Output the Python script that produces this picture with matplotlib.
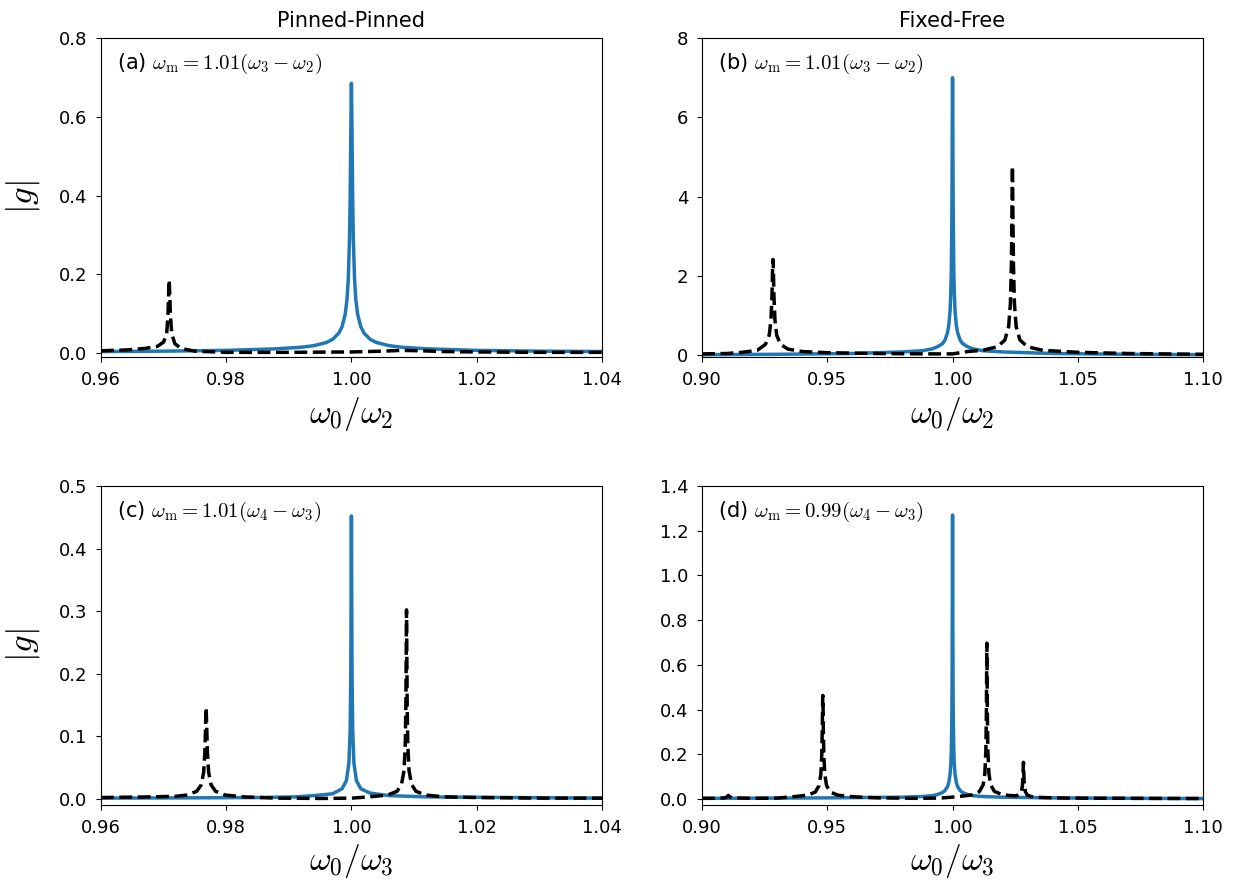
import matplotlib
matplotlib.use('Agg')
import matplotlib.pyplot as plt

plt.rcParams['mathtext.fontset'] = 'cm'

# (a) Pinned-Pinned, w_m = 1.01(w3 - w2)
blue_a_x = [0.960, 0.970, 0.980, 0.988, 0.992, 0.994, 0.996, 0.997, 0.998, 0.9985, 0.999, 0.9993,
            0.9995, 0.9997, 0.9998, 0.9999, 1.000, 1.0001, 1.0002, 1.0003, 1.0005, 1.0007,
            1.001, 1.0015, 1.002, 1.003, 1.004, 1.006, 1.008, 1.012, 1.020, 1.030, 1.040]
blue_a_y = [0.004, 0.005, 0.007, 0.011, 0.015, 0.019, 0.027, 0.035, 0.051, 0.067, 0.098, 0.137,
            0.188, 0.293, 0.393, 0.557, 0.685, 0.557, 0.393, 0.293, 0.188, 0.137,
            0.098, 0.067, 0.051, 0.035, 0.027, 0.019, 0.015, 0.011, 0.007, 0.005, 0.004]
black_a_x = [0.960, 0.964, 0.967, 0.969, 0.970, 0.9705, 0.9707, 0.9708, 0.9709, 0.9710, 0.9711, 0.9713,
             0.9718, 0.9728, 0.975, 0.980, 0.990, 1.000, 1.005, 1.008, 1.011, 1.015, 1.020, 1.030, 1.040]
black_a_y = [0.006, 0.008, 0.012, 0.017, 0.028, 0.050, 0.095, 0.143, 0.186, 0.143, 0.095, 0.050,
             0.024, 0.012, 0.005, 0.002, 0.002, 0.003, 0.005, 0.007, 0.006, 0.004, 0.003, 0.002, 0.002]

# (b) Fixed-Free, w_m = 1.01(w3 - w2)
blue_b_x = [0.900, 0.930, 0.960, 0.980, 0.988, 0.992, 0.994, 0.996, 0.997, 0.998, 0.9985, 0.999,
            0.9993, 0.9995, 0.9997, 0.9998, 0.9999, 1.000, 1.0001, 1.0002, 1.0003, 1.0005,
            1.0007, 1.001, 1.0015, 1.002, 1.003, 1.004, 1.006, 1.008, 1.012, 1.020, 1.040, 1.070, 1.100]
blue_b_y = [0.02, 0.03, 0.05, 0.09, 0.12, 0.17, 0.22, 0.30, 0.39, 0.58, 0.76, 1.12,
            1.57, 2.14, 3.30, 4.37, 5.94, 7.00, 5.94, 4.37, 3.30, 2.14,
            1.57, 1.12, 0.76, 0.58, 0.39, 0.30, 0.22, 0.17, 0.12, 0.09, 0.05, 0.03, 0.02]
black_b_x = [0.900, 0.910, 0.916, 0.922, 0.9253, 0.9268, 0.9275, 0.9279, 0.9281, 0.9282, 0.9283,
             0.9284, 0.9285, 0.9287, 0.9291, 0.9298, 0.9313, 0.9343, 0.940, 0.950, 0.970, 0.990,
             1.000, 1.006, 1.012, 1.0179, 1.0209, 1.0224, 1.0231, 1.0235, 1.0237, 1.0238, 1.0239,
             1.0240, 1.0241, 1.0243, 1.0247, 1.0254, 1.0269, 1.0299, 1.036, 1.050, 1.070, 1.100]
black_b_y = [0.04, 0.05, 0.08, 0.13, 0.28, 0.51, 0.89, 1.49, 2.05, 2.34, 2.42,
             2.34, 2.05, 1.49, 0.89, 0.51, 0.28, 0.16, 0.10, 0.07, 0.05, 0.04,
             0.04, 0.10, 0.13, 0.22, 0.39, 0.73, 1.31, 2.34, 3.57, 4.38, 4.77,
             4.38, 3.57, 2.34, 1.31, 0.73, 0.39, 0.22, 0.13, 0.08, 0.05, 0.03]

# (c) Pinned-Pinned, w_m = 1.01(w4 - w3)
blue_c_x = [0.960, 0.975, 0.985, 0.991, 0.994, 0.997, 0.9985, 0.9992, 0.9996, 0.9998, 0.9999, 0.99995,
            1.000, 1.00005, 1.0001, 1.0002, 1.0004, 1.0008, 1.0015, 1.003, 1.006, 1.012, 1.025, 1.040]
blue_c_y = [0.001, 0.0015, 0.002, 0.003, 0.005, 0.008, 0.016, 0.029, 0.057, 0.11, 0.20, 0.32,
            0.452, 0.32, 0.20, 0.11, 0.057, 0.029, 0.016, 0.009, 0.005, 0.003, 0.002, 0.001]
black_c_x = [0.960, 0.968, 0.972, 0.9738, 0.9753, 0.976, 0.9764, 0.9766, 0.9767, 0.9768,
             0.9769, 0.9770, 0.9772, 0.9776, 0.9783, 0.9798, 0.9828, 0.988, 0.995, 1.000,
             1.0028, 1.0058, 1.0073, 1.008, 1.0084, 1.0086, 1.0087, 1.00875, 1.0088, 1.00885,
             1.0089, 1.0090, 1.0092, 1.0096, 1.0103, 1.0118, 1.0148, 1.020, 1.030, 1.040]
black_c_y = [0.002, 0.003, 0.004, 0.006, 0.012, 0.022, 0.042, 0.075, 0.112, 0.146,
             0.112, 0.075, 0.042, 0.022, 0.012, 0.006, 0.003, 0.001, 0.0005, 0.001,
             0.003, 0.006, 0.012, 0.023, 0.045, 0.087, 0.155, 0.232, 0.302, 0.232,
             0.155, 0.087, 0.045, 0.023, 0.012, 0.006, 0.003, 0.002, 0.001, 0.001]

# (d) Fixed-Free, w_m = 0.99(w4 - w3)
blue_d_x = [0.900, 0.930, 0.950, 0.970, 0.980, 0.988, 0.992, 0.994, 0.996, 0.997, 0.998, 0.9985,
            0.999, 0.9993, 0.9995, 0.9997, 0.9998, 0.9999, 1.000, 1.0001, 1.0002, 1.0003,
            1.0005, 1.0007, 1.001, 1.0015, 1.002, 1.003, 1.004, 1.006, 1.008, 1.012,
            1.020, 1.040, 1.070, 1.100]
blue_d_y = [0.003, 0.004, 0.005, 0.007, 0.008, 0.011, 0.015, 0.020, 0.029, 0.038, 0.056, 0.074,
            0.110, 0.155, 0.215, 0.348, 0.50, 0.825, 1.27, 0.825, 0.50, 0.348,
            0.215, 0.155, 0.110, 0.074, 0.056, 0.038, 0.029, 0.020, 0.015, 0.011,
            0.008, 0.005, 0.003, 0.002]
black_d_x = [0.900, 0.905, 0.909, 0.910, 0.9105, 0.911, 0.912, 0.920, 0.930,
             0.9362, 0.9422, 0.9452, 0.9467, 0.9474, 0.9478, 0.9480, 0.9481, 0.9482,
             0.9483, 0.9484, 0.9486, 0.9490, 0.9497, 0.9512, 0.9542, 0.9602, 0.970, 0.985, 0.995,
             1.0017, 1.0077, 1.0107, 1.0122, 1.0129, 1.0133, 1.0135, 1.0136, 1.0137,
             1.0138, 1.0139, 1.0141, 1.0145, 1.0152, 1.0167, 1.0197,
             1.0223, 1.0253, 1.0268, 1.0275, 1.0279, 1.0281, 1.0282, 1.0283,
             1.0284, 1.0285, 1.0287, 1.0291, 1.0298, 1.0313, 1.0343, 1.045, 1.070, 1.100]
black_d_y = [0.003, 0.003, 0.005, 0.010, 0.016, 0.010, 0.005, 0.003, 0.004,
             0.010, 0.017, 0.031, 0.060, 0.109, 0.20, 0.32, 0.41, 0.463,
             0.41, 0.32, 0.20, 0.109, 0.060, 0.031, 0.017, 0.010, 0.005, 0.003, 0.004,
             0.010, 0.018, 0.033, 0.063, 0.115, 0.218, 0.38, 0.55, 0.697,
             0.55, 0.38, 0.218, 0.115, 0.063, 0.034, 0.020,
             0.016, 0.014, 0.020, 0.032, 0.060, 0.099, 0.137, 0.164,
             0.137, 0.099, 0.060, 0.032, 0.018, 0.011, 0.007, 0.004, 0.003, 0.002]

labels = [r'(a) $\omega_{\rm m}=1.01(\omega_3-\omega_2)$',
          r'(b) $\omega_{\rm m}=1.01(\omega_3-\omega_2)$',
          r'(c) $\omega_{\rm m}=1.01(\omega_4-\omega_3)$',
          r'(d) $\omega_{\rm m}=0.99(\omega_4-\omega_3)$']
titles = ['Pinned-Pinned', 'Fixed-Free']
xlabels = [r'$\omega_0/\omega_2$', r'$\omega_0/\omega_3$']

curves = [(blue_a_x, blue_a_y, black_a_x, black_a_y),
          (blue_b_x, blue_b_y, black_b_x, black_b_y),
          (blue_c_x, blue_c_y, black_c_x, black_c_y),
          (blue_d_x, blue_d_y, black_d_x, black_d_y)]
xlims = [(0.96, 1.04), (0.9, 1.1), (0.96, 1.04), (0.9, 1.1)]
ylims = [(-0.01, 0.8), (-0.04, 8), (-0.01, 0.5), (-0.027, 1.4)]
xticks = [[0.96, 0.98, 1.00, 1.02, 1.04], [0.90, 0.95, 1.00, 1.05, 1.10]] * 2
yticks = [[0.0, 0.2, 0.4, 0.6, 0.8], [0, 2, 4, 6, 8],
          [0.0, 0.1, 0.2, 0.3, 0.4, 0.5], [0.0, 0.2, 0.4, 0.6, 0.8, 1.0, 1.2, 1.4]]

fig, axes = plt.subplots(2, 2, figsize=(12.34, 8.8), dpi=100)
plt.subplots_adjust(left=0.0818, right=0.9749, top=0.9568, bottom=0.0852, wspace=0.2, hspace=0.404)

for i, ax in enumerate(axes.flat):
    bx, by, kx, ky = curves[i]
    ax.plot(bx, by, color='#1f77b4', lw=2.5)
    ax.plot(kx, ky, 'k--', lw=2.5)
    ax.set_xlim(*xlims[i])
    ax.set_ylim(*ylims[i])
    ax.set_xticks(xticks[i])
    ax.set_yticks(yticks[i])
    ax.tick_params(labelsize=13, pad=6.5)
    ax.text(0.032, 0.92, labels[i], transform=ax.transAxes, fontsize=15, va='center')
    ax.set_xlabel(xlabels[i // 2], fontsize=24, labelpad=4)
    if i % 2 == 0:
        ax.set_ylabel(r'$|g|$', fontsize=25, labelpad=12)
    if i < 2:
        ax.set_title(titles[i], fontsize=15, pad=8)

plt.savefig('out.png', dpi=100)
